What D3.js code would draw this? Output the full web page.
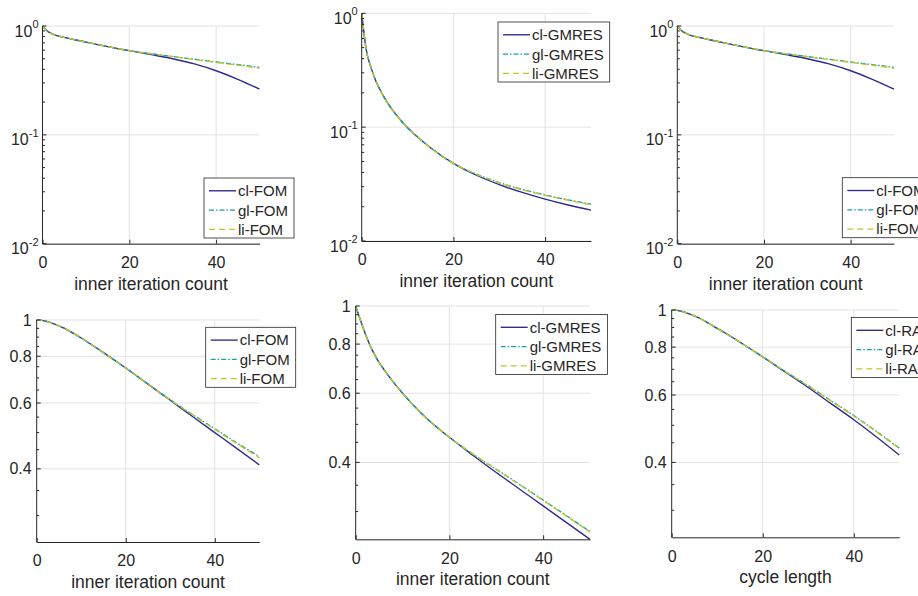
<!DOCTYPE html>
<html><head><meta charset="utf-8">
<script src="https://cdn.jsdelivr.net/npm/d3@7"></script>
<style>
body{margin:0;background:#fff;overflow:hidden}
svg{display:block}
text{font-family:"Liberation Sans",Arial,Helvetica,sans-serif;fill:#262626}
</style>
</head><body>
<svg id="c" width="918" height="596"></svg>
<script>
// ---------- data ----------
const xs = [0,1,2,3,4,5,6,8,10,12,15,20,25,30,35,40,45,50];

// top-left / top-right: FOM (log axis)
const fomLogCl = [1.0,0.905,0.856,0.825,0.802,0.785,0.770,0.740,0.712,0.685,0.646,0.593,0.546,0.500,0.448,0.388,0.324,0.263];
const fomLogGl = [1.0,0.905,0.856,0.825,0.802,0.785,0.770,0.740,0.712,0.685,0.646,0.593,0.557,0.524,0.495,0.467,0.442,0.417];
const fomLogLi = [1.0,0.905,0.856,0.825,0.802,0.785,0.770,0.740,0.712,0.685,0.646,0.593,0.556,0.523,0.492,0.463,0.436,0.410];

// top-middle: GMRES (log axis)
const gmresLogCl = [1.0,0.476,0.337,0.260,0.213,0.180,0.155,0.1216,0.0989,0.0832,0.0659,0.0480,0.0378,0.0313,0.0267,0.0233,0.0207,0.0187];
const gmresLogGl = [1.0,0.476,0.337,0.260,0.213,0.180,0.155,0.1216,0.0989,0.0832,0.0659,0.0480,0.0387,0.0326,0.0284,0.0254,0.0230,0.0211];
const gmresLogLi = [1.0,0.476,0.337,0.260,0.213,0.180,0.155,0.1216,0.0989,0.0832,0.0659,0.0480,0.0386,0.0325,0.0282,0.0252,0.0228,0.0208];

// bottom-left: FOM (zoomed)
const fomCl = [1.0,0.998,0.993,0.985,0.975,0.965,0.953,0.925,0.895,0.864,0.818,0.744,0.674,0.610,0.552,0.500,0.453,0.410];
const fomGl = [1.0,0.998,0.993,0.985,0.975,0.965,0.953,0.925,0.895,0.864,0.818,0.744,0.674,0.612,0.559,0.512,0.469,0.4315];
const fomLi = [1.0,0.998,0.993,0.985,0.975,0.965,0.953,0.925,0.895,0.864,0.818,0.744,0.674,0.611,0.558,0.510,0.467,0.428];

// bottom-middle: GMRES (zoomed)
const gmresCl = [1.0,0.921,0.853,0.797,0.753,0.718,0.690,0.641,0.600,0.5645,0.5195,0.4634,0.4173,0.377,0.342,0.3101,0.2812,0.2549];
const gmresGl = [1.0,0.921,0.853,0.797,0.753,0.718,0.690,0.641,0.600,0.5645,0.5195,0.4634,0.4202,0.3841,0.3516,0.3209,0.2927,0.2667];
const gmresLi = [1.0,0.921,0.853,0.797,0.753,0.718,0.690,0.641,0.600,0.5645,0.5195,0.4634,0.4202,0.3837,0.3508,0.3202,0.2920,0.2661];

// bottom-right: cycle length
const raCl = [1.0,0.998,0.993,0.985,0.975,0.965,0.953,0.925,0.895,0.867,0.824,0.7545,0.688,0.6275,0.5695,0.517,0.4662,0.4182];
const raGl = [1.0,0.998,0.993,0.985,0.975,0.965,0.953,0.925,0.895,0.867,0.824,0.7545,0.6904,0.634,0.5796,0.5299,0.4818,0.436];
const raLi = [1.0,0.998,0.993,0.985,0.975,0.965,0.953,0.925,0.895,0.867,0.824,0.7545,0.6904,0.6333,0.5789,0.5288,0.4806,0.4345];

const fomLabels = ["cl-FOM","gl-FOM","li-FOM"];
const gmresLabels = ["cl-GMRES","gl-GMRES","li-GMRES"];
const raLabels = ["cl-RADAU","gl-RADAU","li-RADAU"];

const xTicks = [0,20,40];
const yLogTicks = [0.01,0.1,1];
const yLogExp = ["-2","-1","0"];
const yLinTicks = [0.4,0.6,0.8,1];
const yLinLabels = ["0.4","0.6","0.8","1"];
const yLinMinor = [0.3,0.35,0.45,0.5,0.55,0.65,0.7,0.75,0.85,0.9,0.95];

// ---------- style ----------
const colors = ["#2f2a8c","#13a3a6","#c6c526"];
const dashes = [null,"5,2,1.5,2","6,4"];
const axisColor = "#262626";
const gridColor = "#e3e3e3";

const svg = d3.select("#c");

function panel(cfg){
  const g = svg.append("g");
  const x = d3.scaleLinear().domain([0,50]).range([cfg.L,cfg.R]);
  const y = d3.scaleLog().domain(cfg.yDomain).range([cfg.B,cfg.T]);

  // grid
  g.selectAll("line.gx").data(xTicks.filter(v=>v>0)).join("line").attr("class","gx")
    .attr("x1",d=>x(d)).attr("x2",d=>x(d)).attr("y1",cfg.T).attr("y2",cfg.B)
    .attr("stroke",gridColor).attr("stroke-width",1);
  g.selectAll("line.gy").data(cfg.yTicks).join("line").attr("class","gy")
    .attr("x1",cfg.L).attr("x2",cfg.R).attr("y1",d=>y(d)).attr("y2",d=>y(d))
    .attr("stroke",gridColor).attr("stroke-width",1);

  // series
  const line = d3.line().x(d=>x(d[0])).y(d=>y(d[1])).curve(d3.curveMonotoneX);
  cfg.series.forEach((s,i)=>{
    g.append("path").datum(xs.map((v,j)=>[v,s[j]]))
      .attr("d",line).attr("fill","none").attr("stroke",colors[i])
      .attr("stroke-width",1.35).attr("stroke-dasharray",dashes[i]);
  });

  // x axis
  const xa = g.append("g").attr("transform",`translate(0,${cfg.B})`)
    .call(d3.axisBottom(x).tickValues(xTicks).tickSize(-4).tickSizeOuter(0).tickPadding(13).tickFormat(d3.format("d")));
  xa.attr("font-size",null).attr("font-family",null);
  xa.select(".domain").attr("stroke",axisColor);
  xa.selectAll(".tick line").attr("stroke",axisColor);
  xa.selectAll(".tick text").attr("font-size",16).attr("fill",axisColor);

  // y axis
  g.append("line").attr("x1",cfg.L).attr("x2",cfg.L).attr("y1",cfg.T).attr("y2",cfg.B+0.5).attr("stroke",axisColor);
  g.selectAll("line.ymaj").data(cfg.yTicks).join("line").attr("class","ymaj")
    .attr("x1",cfg.L).attr("x2",cfg.L+4).attr("y1",d=>y(d)).attr("y2",d=>y(d)).attr("stroke",axisColor);
  g.selectAll("line.ymin").data(cfg.yMinor).join("line").attr("class","ymin")
    .attr("x1",cfg.L).attr("x2",cfg.L+2.5).attr("y1",d=>y(d)).attr("y2",d=>y(d)).attr("stroke",axisColor);

  if(cfg.log){
    cfg.yTicks.forEach((v,i)=>{
      const t = g.append("text").attr("x",cfg.L-4).attr("y",y(v)+10.5).attr("text-anchor","end").attr("font-size",16);
      t.append("tspan").text("10");
      t.append("tspan").attr("dy",-8.5).attr("font-size",11).text(yLogExp[i]);
    });
  } else {
    cfg.yTicks.forEach((v,i)=>{
      g.append("text").attr("x",cfg.L-5).attr("y",y(v)).attr("dy","0.35em").attr("text-anchor","end")
        .attr("font-size",16).text(yLinLabels[i]);
    });
  }

  // x label
  g.append("text").attr("x",(cfg.L+cfg.R)/2).attr("y",cfg.B+46).attr("text-anchor","middle")
    .attr("font-size",17.5).text(cfg.xlabel);

  // legend
  const lg = g.append("g").attr("transform",`translate(${cfg.lx},${cfg.ly})`);
  const rect = lg.append("rect").attr("fill","#fff").attr("stroke",axisColor).attr("stroke-width",0.8).attr("height",60);
  let maxW = 0;
  cfg.labels.forEach((lab,i)=>{
    const yy = 12.8 + i*19.3;
    lg.append("line").attr("x1",5).attr("x2",32).attr("y1",yy).attr("y2",yy)
      .attr("stroke",colors[i]).attr("stroke-width",1.35).attr("stroke-dasharray",dashes[i]);
    const t = lg.append("text").attr("x",34).attr("y",yy).attr("dy","0.36em").attr("font-size",15).text(lab);
    maxW = Math.max(maxW, t.node().getComputedTextLength());
  });
  rect.attr("width",34+maxW+6);
}

const logMinor = [];
[0.01,0.1].forEach(b=>{ for(let k=2;k<=9;k++) logMinor.push(b*k); });

panel({L:42.5,R:259.5,T:26,B:243.7,yDomain:[0.01,1],log:true,yTicks:yLogTicks,yMinor:logMinor,
  series:[fomLogCl,fomLogGl,fomLogLi],labels:fomLabels,xlabel:"inner iteration count",lx:204,ly:178});
panel({L:361.7,R:591,T:13.3,B:241,yDomain:[0.01,1],log:true,yTicks:yLogTicks,yMinor:logMinor,
  series:[gmresLogCl,gmresLogGl,gmresLogLi],labels:gmresLabels,xlabel:"inner iteration count",lx:498,ly:22});
panel({L:677.3,R:894,T:26,B:243.7,yDomain:[0.01,1],log:true,yTicks:yLogTicks,yMinor:logMinor,
  series:[fomLogCl,fomLogGl,fomLogLi],labels:fomLabels,xlabel:"inner iteration count",lx:842.3,ly:177.7});
panel({L:36.7,R:259.3,T:320,B:542,yDomain:[0.255,1],log:false,yTicks:yLinTicks,yMinor:yLinMinor,
  series:[fomCl,fomGl,fomLi],labels:fomLabels,xlabel:"inner iteration count",lx:205.7,ly:327.3});
panel({L:355.7,R:590,T:306,B:539.3,yDomain:[0.255,1],log:false,yTicks:yLinTicks,yMinor:yLinMinor,
  series:[gmresCl,gmresGl,gmresLi],labels:gmresLabels,xlabel:"inner iteration count",lx:495.7,ly:314.5});
panel({L:671.7,R:899.3,T:310,B:537.3,yDomain:[0.255,1],log:false,yTicks:yLinTicks,yMinor:yLinMinor,
  series:[raCl,raGl,raLi],labels:raLabels,xlabel:"cycle length",lx:851.3,ly:317.5});
</script>
</body></html>
